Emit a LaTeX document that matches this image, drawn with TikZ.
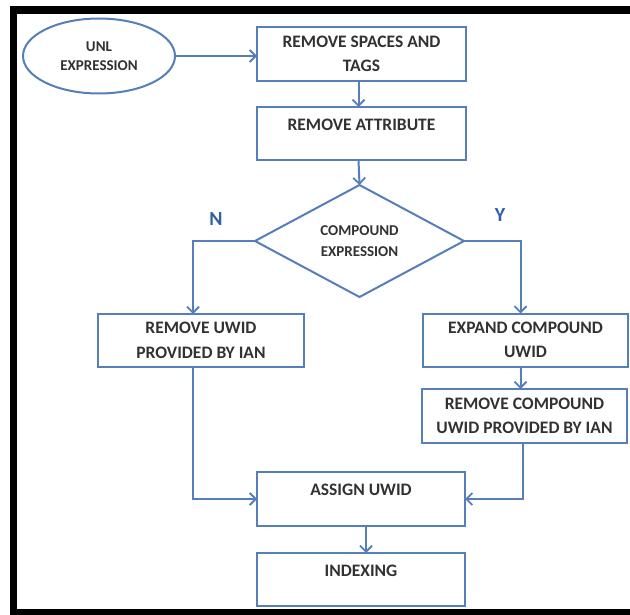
\documentclass[tikz,border=0pt]{standalone}
\usepackage{fontspec}
\setmainfont{Carlito}
\usetikzlibrary{shapes.geometric,arrows.meta}
\definecolor{edgeblue}{RGB}{86,126,186}
\definecolor{labelblue}{RGB}{46,95,168}
\definecolor{inkgray}{RGB}{50,50,50}
\begin{document}
\begin{tikzpicture}[x=1pt,y=-1pt,
  every node/.style={inner sep=0pt, outer sep=0pt},
  procbox/.style={draw=edgeblue, line width=2pt, fill=white, rectangle,
    align=center, text=inkgray, font=\bfseries\fontsize{17.5}{24.5}\selectfont},
  termnode/.style={draw=edgeblue, line width=2pt, ellipse, align=center,
    text=inkgray, font=\bfseries\fontsize{15}{19}\selectfont},
  decision/.style={draw=edgeblue, line width=2pt, diamond, align=center,
    text=inkgray, font=\bfseries\fontsize{15}{21}\selectfont},
  branchlabel/.style={text=labelblue, font=\bfseries\fontsize{20}{22}\selectfont},
  flow/.style={draw=edgeblue, line width=2pt,
    -{Straight Barb[length=6pt,width=12pt,line width=1.8pt]}}
]
\useasboundingbox (0,0) rectangle (630,615);
\fill[white] (0,0) rectangle (630,615);

% black frame
\fill[black] (10,6) rectangle (630,14);
\fill[black] (10,6) rectangle (17,615);
\fill[black] (10,609) rectangle (630,615);

% nodes
\node[termnode, minimum width=152pt, minimum height=75pt] (start) at (99,56) {UNL\\EXPRESSION};
\node[procbox, minimum width=209pt, minimum height=54pt] (spaces) at (361.5,54) {REMOVE SPACES AND\\TAGS};
\node[procbox, minimum width=209pt, minimum height=53pt] (attr) at (361.5,133.5) {REMOVE ATTRIBUTE\\[-7pt]\mbox{}};
\node[decision, minimum width=209pt, minimum height=112pt] (compound) at (359.5,241) {COMPOUND\\EXPRESSION};
\node[procbox, minimum width=206pt, minimum height=53pt] (rmuwid) at (201,340.5) {REMOVE UWID\\PROVIDED BY IAN};
\node[procbox, minimum width=205pt, minimum height=53pt] (expand) at (525.5,340) {EXPAND COMPOUND\\UWID};
\node[procbox, minimum width=205pt, minimum height=54pt] (rmcomp) at (524.5,416) {REMOVE COMPOUND\\UWID PROVIDED BY IAN};
\node[procbox, minimum width=208pt, minimum height=54pt] (assign) at (361,499) {ASSIGN UWID\\[-7pt]\mbox{}};
\node[procbox, minimum width=208pt, minimum height=53pt] (index) at (361,579.5) {INDEXING\\[-7pt]\mbox{}};

\node[branchlabel] (no) at (216,219) {N};
\node[branchlabel] (yes) at (500,215) {Y};

% connectors
\draw[flow] (start.east) -- (start.east -| spaces.west);
\draw[flow] ([xshift=-3pt]spaces.south) -- ([xshift=-3pt]attr.north);
\draw[flow] ([xshift=-3pt]attr.south) -- (compound.north);
\draw[flow] (compound.west) -| ([xshift=-8pt]rmuwid.north);
\draw[flow] (compound.east) -| ([xshift=-5pt]expand.north);
\draw[flow] ([xshift=-5pt]expand.south) -- ([xshift=-5pt]expand.south |- rmcomp.north);
\draw[flow] ([xshift=-8pt]rmuwid.south) |- (assign.west);
\draw[flow] ([xshift=-2pt]rmcomp.south) |- (assign.east);
\draw[flow] ([xshift=5pt]assign.south) -- ([xshift=5pt]index.north);
\end{tikzpicture}
\end{document}
